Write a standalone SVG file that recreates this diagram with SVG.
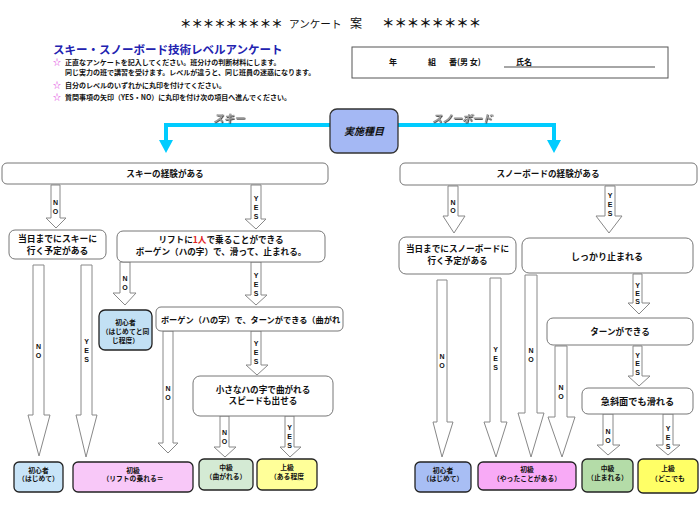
<svg xmlns="http://www.w3.org/2000/svg" width="700" height="513" viewBox="0 0 700 513">
<defs>
<style>
text{font-family:"Noto Sans CJK JP","Liberation Sans",sans-serif;font-weight:bold;fill:#111}
.n{fill:#fff;stroke:#777;stroke-width:1}
.r{stroke:#222;stroke-width:1.3}
.t{font-size:8.6px;text-anchor:middle}
.s{font-size:6.8px;text-anchor:middle}
.b{font-size:7px}
.st{font-size:8px;fill:#e040e0}
.ar{fill:#fff;stroke:#888;stroke-width:1}
.l{font-family:"Liberation Sans",sans-serif;font-size:7px;text-anchor:middle}
.cy{fill:none;stroke:#00ccff;stroke-width:4}
.cyh{fill:#00ccff}
.it{font-size:10.5px;font-style:italic;fill:#999;filter:url(#sh)}
</style>
<filter id="sh" x="-10%" y="-30%" width="130%" height="160%"><feDropShadow dx="0.8" dy="0.8" stdDeviation="0.3" flood-color="#333"/></filter>
</defs>
<rect width="700" height="513" fill="#fff"/>
<g id="header">
<text x="180" y="28" style="font-size:11.4px">＊＊＊＊＊＊＊＊＊</text>
<text x="289" y="28" style="font-size:10.6px;font-weight:normal">アンケート</text>
<text x="350" y="28" style="font-size:12px;font-weight:normal">案</text>
<text x="382" y="28" style="font-size:12.4px">＊＊＊＊＊＊＊＊</text>
<text x="53" y="54" style="font-size:11.5px;fill:#2222b0">スキー・スノーボード技術レベルアンケート</text>
<text class="st" x="53" y="65">☆</text>
<text class="b" x="65" y="65">正直なアンケートを記入してください。班分けの判断材料にします。</text>
<text class="b" x="65" y="75">同じ実力の班で講習を受けます。レベルが違うと、同じ班員の迷惑になります。</text>
<text class="st" x="53" y="87.5">☆</text>
<text class="b" x="65" y="87.5">自分のレベルのいずれかに丸印を付けてください。</text>
<text class="st" x="53" y="100">☆</text>
<text class="b" x="65" y="100">質問事項の矢印（YES・NO）に丸印を付け次の項目へ進んでください。</text>
</g>
<g id="namebox">
<rect x="352" y="47" width="316" height="31" fill="#fff" stroke="#555" stroke-width="1"/>
<line x1="504" y1="67" x2="655" y2="67" stroke="#888" stroke-width="1.6"/>
<text x="389" y="65" style="font-size:8px">年</text>
<text x="428" y="65" style="font-size:8px">組</text>
<text x="449" y="65" style="font-size:8px">番(男 女)</text>
<text x="516" y="65" style="font-size:8px">氏名</text>
</g>
<g id="connectors">
<polyline class="cy" points="330,125 166,125 166,141"/>
<polygon class="cyh" points="159,140 173,140 166,153"/>
<polyline class="cy" points="398,125 554,125 554,141"/>
<polygon class="cyh" points="547,140 561,140 554,153"/>
<text class="it" x="213" y="122">スキー</text>
<text class="it" x="432" y="122" style="font-size:10px">スノーボード</text>
<polygon class="ar" points="51,185 60,185 60,218 66,218 56,228 46,218 51,218"/>
<text class="l" x="55.5" y="204.5">N</text><text class="l" x="55.5" y="213.5">O</text>
<polygon class="ar" points="251,185 261,185 261,219 266,219 256,229 245,219 251,219"/>
<text class="l" x="256" y="200.5">Y</text><text class="l" x="256" y="209.5">E</text><text class="l" x="256" y="218.5">S</text>
<polygon class="ar" points="120,262 130,262 130,293 136,293 125,305 113,293 120,293"/>
<text class="l" x="125" y="280.5">N</text><text class="l" x="125" y="289.5">O</text>
<polygon class="ar" points="251,262 261,262 261,295 267,295 256,305 245,295 251,295"/>
<text class="l" x="256" y="277.5">Y</text><text class="l" x="256" y="286.5">E</text><text class="l" x="256" y="295.5">S</text>
<polygon class="ar" points="251,331 261,331 261,365 268,365 257,375 246,365 251,365"/>
<text class="l" x="256" y="345.5">Y</text><text class="l" x="256" y="354.5">E</text><text class="l" x="256" y="363.5">S</text>
<polygon class="ar" points="163,331 173,331 173,443 178,443 168,453 158,443 163,443"/>
<text class="l" x="168" y="390.5">N</text><text class="l" x="168" y="399.5">O</text>
<polygon class="ar" points="220,416 229,416 229,447 236,447 225,457 214,447 220,447"/>
<text class="l" x="224.5" y="434.5">N</text><text class="l" x="224.5" y="443.5">O</text>
<polygon class="ar" points="285,416 294,416 294,447 301,447 290,457 280,447 285,447"/>
<text class="l" x="289.5" y="429.5">Y</text><text class="l" x="289.5" y="438.5">E</text><text class="l" x="289.5" y="447.5">S</text>
<polygon class="ar" points="33,265 44,265 44,415 50,415 39,456 28,415 33,415"/>
<text class="l" x="38.5" y="348.5">N</text><text class="l" x="38.5" y="357.5">O</text>
<polygon class="ar" points="81,265 92,265 92,415 97,415 86,457 76,415 81,415"/>
<text class="l" x="86.5" y="343.5">Y</text><text class="l" x="86.5" y="352.5">E</text><text class="l" x="86.5" y="361.5">S</text>
<polygon class="ar" points="448,186 458,186 458,216 465,216 454,233 443,216 448,216"/>
<text class="l" x="453" y="204.5">N</text><text class="l" x="453" y="213">O</text>
<polygon class="ar" points="605,186 615,186 615,216 622,216 609,233 596,216 605,216"/>
<text class="l" x="610" y="197.5">Y</text><text class="l" x="610" y="206.5">E</text><text class="l" x="610" y="215.5">S</text>
<polygon class="ar" points="437,280 447,280 447,422 453,422 442,457 433,422 437,422"/>
<text class="l" x="442" y="358.5">N</text><text class="l" x="442" y="367.5">O</text>
<polygon class="ar" points="490,278 501,278 501,422 507,422 496,457 484,422 490,422"/>
<text class="l" x="495.5" y="351.5">Y</text><text class="l" x="495.5" y="360.5">E</text><text class="l" x="495.5" y="369.5">S</text>
<polygon class="ar" points="525,275 537,275 537,413 544,413 531,457 518,413 525,413"/>
<text class="l" x="531" y="352.5">N</text><text class="l" x="531" y="361.5">O</text>
<polygon class="ar" points="555,346 567,346 567,417 575,417 562,457 548,417 555,417"/>
<text class="l" x="561" y="389.5">N</text><text class="l" x="561" y="398.5">O</text>
<polygon class="ar" points="633,274 642,274 642,303 650,303 639,314 628,303 633,303"/>
<text class="l" x="637.5" y="287.5">Y</text><text class="l" x="637.5" y="295.5">E</text><text class="l" x="637.5" y="304">S</text>
<polygon class="ar" points="633,346 642,346 642,376 650,376 639,386 628,376 633,376"/>
<text class="l" x="637.5" y="357.5">Y</text><text class="l" x="637.5" y="365.5">E</text><text class="l" x="637.5" y="374.5">S</text>
<polygon class="ar" points="603,414 613,414 613,445 620,445 608,455 597,445 603,445"/>
<text class="l" x="608" y="433.5">N</text><text class="l" x="608" y="442.5">O</text>
<polygon class="ar" points="663,414 673,414 673,445 680,445 668,455 656,445 663,445"/>
<text class="l" x="668" y="430.5">Y</text><text class="l" x="668" y="439.5">E</text><text class="l" x="668" y="448.5">S</text>
</g>
<g id="jisshi">
<rect x="330" y="109" width="68" height="44" rx="7" fill="#a4b8f4" stroke="#333" stroke-width="1.3"/>
<text x="364" y="134.5" style="font-size:10px;text-anchor:middle;font-style:italic">実施種目</text>
</g>
<g id="ski-exp">
<rect class="n" x="2" y="163" width="326" height="21" rx="5"/>
<text class="t" x="165" y="176.5">スキーの経験がある</text>
</g>
<g id="sb-exp">
<rect class="n" x="400" y="163" width="297" height="22" rx="5"/>
<text class="t" x="548" y="177">スノーボードの経験がある</text>
</g>
<g id="ski-plan">
<rect class="n" x="9" y="230" width="97" height="29" rx="6"/>
<text class="t" x="57.5" y="242" style="font-size:8.8px">当日までにスキーに</text>
<text class="t" x="57.5" y="254" style="font-size:8.8px">行く予定がある</text>
</g>
<g id="ski-lift">
<rect class="n" x="117" y="231" width="208" height="31" rx="6"/>
<text class="t" x="221" y="243">リフトに<tspan fill="#e02020">1人</tspan>で乗ることができる</text>
<text class="t" x="221" y="255">ボーゲン（ハの字）で、滑って、止まれる。</text>
</g>
<g id="ski-beginner0">
<rect class="r" x="99" y="310" width="53" height="40" rx="6" fill="#c2e0f4"/>
<text class="s" x="125.5" y="324.5">初心者</text>
<text class="s" x="125.5" y="333.5">（はじめてと同</text>
<text class="s" x="125.5" y="342.5">じ程度）</text>
</g>
<g id="ski-turn">
<rect class="n" x="156" y="307" width="187" height="24" rx="5"/>
<text class="t" x="250.5" y="322.5" style="font-size:8.2px">ボーゲン（ハの字）で、ターンができる（曲がれ</text>
</g>
<g id="ski-speed">
<rect class="n" x="193" y="376" width="140" height="40" rx="7"/>
<text class="t" x="263" y="393">小さなハの字で曲がれる</text>
<text class="t" x="263" y="404">スピードも出せる</text>
</g>
<g id="ski-shoshinsha">
<rect class="r" x="14" y="462" width="49" height="30" rx="5" fill="#c8e4f8"/>
<text class="s" x="38.5" y="472.5">初心者</text>
<text class="s" x="38.5" y="481">（はじめて）</text>
</g>
<g id="ski-shokyu">
<rect class="r" x="73" y="462" width="120" height="30" rx="5" fill="#f8c8f8"/>
<text class="s" x="133" y="472.5">初級</text>
<text class="s" x="133" y="481">（リフトの乗れる＝</text>
</g>
<g id="ski-chukyu">
<rect class="r" x="199" y="459" width="54" height="31" rx="5" fill="#d4ead4"/>
<text class="s" x="226" y="469.5">中級</text>
<text class="s" x="226" y="478.5">（曲がれる）</text>
</g>
<g id="ski-jokyu">
<rect class="r" x="257" y="459" width="60" height="31" rx="5" fill="#ffff99"/>
<text class="s" x="287" y="469.5">上級</text>
<text class="s" x="287" y="478.5">（ある程度</text>
</g>
<g id="sb-plan">
<rect class="n" x="399" y="237" width="117" height="37" rx="7"/>
<text class="t" x="457.5" y="252">当日までにスノーボードに</text>
<text class="t" x="457.5" y="264">行く予定がある</text>
</g>
<g id="sb-stop">
<rect class="n" x="522" y="238" width="171" height="35" rx="7"/>
<text class="t" x="607" y="259.5" style="font-size:9px">しっかり止まれる</text>
</g>
<g id="sb-turn">
<rect class="n" x="547" y="318" width="146" height="27" rx="6"/>
<text class="t" x="620" y="334.5">ターンができる</text>
</g>
<g id="sb-steep">
<rect class="n" x="582" y="388" width="111" height="26" rx="6"/>
<text class="t" x="637.5" y="404.5" style="font-size:9.2px">急斜面でも滑れる</text>
</g>
<g id="sb-shoshinsha">
<rect class="r" x="415" y="462" width="56" height="30" rx="5" fill="#a8bef4"/>
<text class="s" x="443" y="472.5">初心者</text>
<text class="s" x="443" y="481">（はじめて）</text>
</g>
<g id="sb-shokyu">
<rect class="r" x="478" y="462" width="98" height="28" rx="5" fill="#f8aaf6"/>
<text class="s" x="527" y="472">初級</text>
<text class="s" x="527" y="480.5">（やったことがある）</text>
</g>
<g id="sb-chukyu">
<rect class="r" x="582" y="459" width="51" height="33" rx="5" fill="#b4dca8"/>
<text class="s" x="607.5" y="471">中級</text>
<text class="s" x="607.5" y="480">（止まれる）</text>
</g>
<g id="sb-jokyu">
<rect class="r" x="638" y="459" width="60" height="34" rx="5" fill="#ffff66"/>
<text class="s" x="668" y="471">上級</text>
<text class="s" x="668" y="480.5">（どこでも</text>
</g>
</svg>
